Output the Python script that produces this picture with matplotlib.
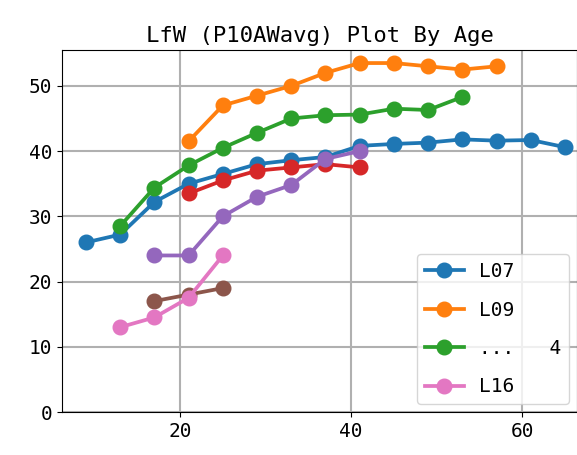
import matplotlib
matplotlib.use('Agg')
import matplotlib.pyplot as plt

plt.rcParams['font.family'] = ['DejaVu Sans Mono', 'Noto Sans CJK SC']

# ages and values per line
age_l07 = [9, 13, 17, 21, 25, 29, 33, 37, 41, 45, 49, 53, 57, 61, 65]
val_l07 = [26, 27.2, 32.2, 35, 36.5, 38, 38.6, 39.1, 40.8, 41.1, 41.3, 41.8, 41.6, 41.7, 40.6]
age_l09 = [21, 25, 29, 33, 37, 41, 45, 49, 53, 57]
val_l09 = [41.5, 47, 48.5, 50, 52, 53.5, 53.5, 53, 52.5, 53]
age_g = [13, 17, 21, 25, 29, 33, 37, 41, 45, 49, 53]
val_g = [28.5, 34.4, 37.8, 40.5, 42.8, 45, 45.5, 45.6, 46.5, 46.3, 48.3]
age_r = [21, 25, 29, 33, 37, 41]
val_r = [33.5, 35.5, 37, 37.5, 38, 37.5]
age_p = [17, 21, 25, 29, 33, 37, 41]
val_p = [24, 24, 30, 33, 34.8, 38.8, 40]
age_b = [17, 21, 25]
val_b = [17, 18, 19]
age_l16 = [13, 17, 21, 25]
val_l16 = [13, 14.5, 17.5, 24]

fig = plt.figure(figsize=(5.77, 4.55), dpi=100)
ax = fig.add_axes([62/577, 1-412/455, 515/577, 362/455])

kw = dict(marker='o', lw=2.7, ms=10.5)
ax.plot(age_l07, val_l07, label='L07', **kw)
ax.plot(age_l09, val_l09, label='L09', **kw)
ax.plot(age_g, val_g, label='...   4', **kw)
ax.plot(age_r, val_r, label='_r', **kw)
ax.plot(age_p, val_p, label='_p', **kw)
ax.plot(age_b, val_b, label='_b', **kw)
ax.plot(age_l16, val_l16, label='L16', **kw)

ax.set_xlim(6.2, 66.4)
ax.set_ylim(0, 55.5)
ax.set_xticks([20, 40, 60])
ax.set_yticks([0, 10, 20, 30, 40, 50])
ax.tick_params(labelsize=14)
ax.grid(True, color='#b0b0b0', lw=1.5)
ax.set_title('LfW (P10AWavg) Plot By Age', fontsize=16)
ax.legend(loc='lower right', fontsize=14, labelspacing=1.0,
          handlelength=2.0, borderaxespad=0.4)

fig.savefig('out.png', dpi=100)
